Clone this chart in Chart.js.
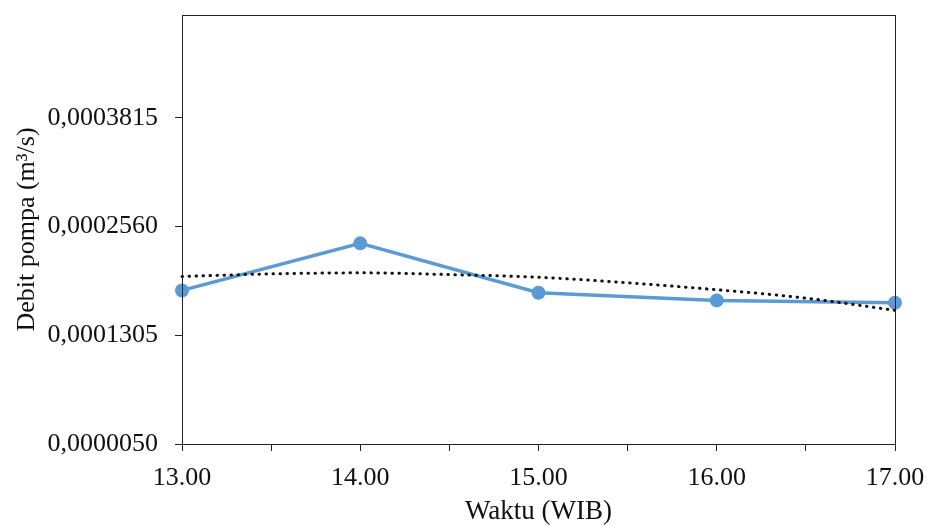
<!DOCTYPE html>
<html>
<head>
<meta charset="utf-8">
<script src="https://cdn.jsdelivr.net/npm/chart.js@4"></script>
<style>
  html, body { margin: 0; padding: 0; background: #ffffff; }
  #wrap { width: 927px; height: 526px; }
</style>
</head>
<body>
<div id="wrap"><canvas id="chart" width="927" height="526"></canvas></div>
<script>
// data
const waktu = [13, 14, 15, 16, 17];
const debit = [0.0001822, 0.0002365, 0.0001795, 0.0001707, 0.0001680];

// dotted trend line (sampled every half hour)
const trendWaktu = [13, 13.5, 14, 14.5, 15, 15.5, 16, 16.5, 17];
const trendDebit = [0.0001983, 0.0002013, 0.0002025, 0.0002005, 0.0001974, 0.0001910, 0.0001830, 0.0001733, 0.0001592];

const yTicks = [0.0000050, 0.0001305, 0.0002560, 0.0003815];

const FONT = "'Liberation Serif', 'Times New Roman', serif";

// box round the plot area
const frame = {
    id: "frame",
    afterDraw(chart) {
        const a = chart.chartArea;
        const ctx = chart.ctx;
        ctx.save();
        ctx.strokeStyle = "#222222";
        ctx.lineWidth = 1;
        ctx.strokeRect(Math.round(a.left) + 0.5, Math.round(a.top) + 0.5,
            Math.round(a.right - a.left), Math.round(a.bottom - a.top));
        ctx.restore();
    }
};

// no automatic margins from the tick labels
function noMargins(scale) {
    scale.paddingTop = 0;
    scale.paddingBottom = 0;
    scale.paddingLeft = 0;
    scale.paddingRight = 0;
}

new Chart(document.getElementById("chart"), {
    type: "line",
    data: {
        datasets: [
            {
                label: "Trend",
                data: trendWaktu.map((x, i) => ({ x: x, y: trendDebit[i] })),
                borderColor: "#111111",
                borderWidth: 3,
                borderDash: [0.5, 6.5],
                borderCapStyle: "round",
                pointRadius: 0,
                tension: 0.4,
                cubicInterpolationMode: "monotone",
                fill: false,
                order: 0,
                clip: false
            },
            {
                label: "Debit pompa",
                data: waktu.map((x, i) => ({ x: x, y: debit[i] })),
                borderColor: "#5B9BD5",
                backgroundColor: "#5B9BD5",
                borderWidth: 3.5,
                pointRadius: 7,
                pointHoverRadius: 7,
                pointBorderWidth: 0,
                tension: 0,
                fill: false,
                order: 1,
                clip: false
            }
        ]
    },
    options: {
        responsive: false,
        animation: false,
        events: [],
        layout: { padding: { left: 0, right: 32, top: 15, bottom: 0 } },
        plugins: {
            legend: { display: false },
            tooltip: { enabled: false }
        },
        scales: {
            x: {
                type: "linear",
                min: 13,
                max: 17,
                afterBuildTicks: scale => {
                    scale.ticks = [];
                    for (let v = 13; v <= 17; v += 0.5) scale.ticks.push({ value: v });
                },
                afterFit: scale => { scale.height = 82; noMargins(scale); },
                ticks: {
                    autoSkip: false,
                    maxRotation: 0,
                    color: "#111111",
                    font: { family: FONT, size: 26 },
                    padding: 12,
                    callback: v => (Number.isInteger(v) ? v.toFixed(2) : "")
                },
                grid: {
                    drawOnChartArea: false,
                    tickLength: 7,
                    tickColor: "#222222"
                },
                border: { display: false },
                title: {
                    display: true,
                    text: "Waktu (WIB)",
                    color: "#111111",
                    font: { family: FONT, size: 27 },
                    padding: { top: 0, bottom: -2 }
                }
            },
            y: {
                type: "linear",
                min: 0.000005,
                max: 0.0005,
                afterBuildTicks: scale => {
                    scale.ticks = yTicks.map(v => ({ value: v }));
                },
                afterFit: scale => { scale.width = 182; noMargins(scale); },
                ticks: {
                    autoSkip: false,
                    color: "#111111",
                    font: { family: FONT, size: 26 },
                    padding: 17,
                    callback: v => v.toFixed(7).replace(".", ",")
                },
                grid: {
                    drawOnChartArea: false,
                    tickLength: 7,
                    tickColor: "#222222"
                },
                border: { display: false },
                title: {
                    display: true,
                    text: "Debit pompa (m³/s)",
                    color: "#111111",
                    font: { family: FONT, size: 26 },
                    padding: { top: 12, bottom: 0 }
                }
            }
        }
    },
    plugins: [frame]
});
</script>
</body>
</html>
